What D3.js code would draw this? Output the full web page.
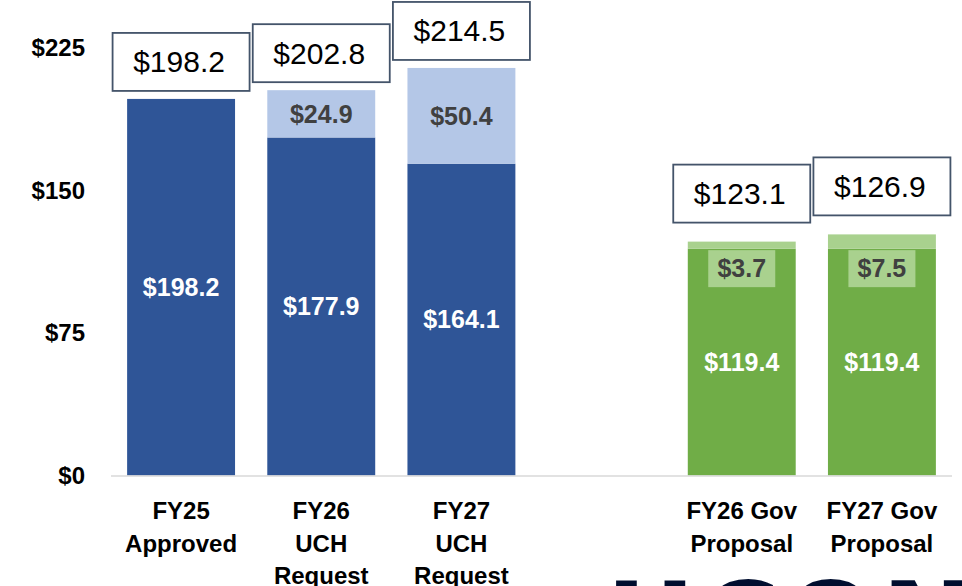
<!DOCTYPE html>
<html>
<head>
<meta charset="utf-8">
<script src="https://cdn.jsdelivr.net/npm/d3@7/dist/d3.min.js"></script>
<style>
  html, body { margin: 0; padding: 0; background: #fff; overflow: hidden; }
  svg { display: block; font-family: "Liberation Sans", Arial, sans-serif; }
</style>
</head>
<body>
<svg id="chart" width="962" height="586"></svg>
<script>
// ---- data ----
const categories = ["FY25\nApproved", "FY26\nUCH\nRequest", "FY27\nUCH\nRequest", "", "FY26 Gov\nProposal", "FY27 Gov\nProposal"];
const groups = ["uch", "uch", "uch", null, "gov", "gov"];
const baseValues = [198.2, 177.9, 164.1, null, 119.4, 119.4];
const addValues = [0, 24.9, 50.4, null, 3.7, 7.5];
const totalValues = [198.2, 202.8, 214.5, null, 123.1, 126.9];
const yTicks = [0, 75, 150, 225];

const baseColor = { uch: "#2F5597", gov: "#70AD47" };
const addColor = { uch: "#B4C7E7", gov: "#A9D18E" };

const svg = d3.select("#chart");

const x = d3.scaleBand().domain(categories).range([111, 952]).paddingInner(0.23).paddingOuter(0.115);
const y = d3.scaleLinear().domain([0, 225]).range([475.5, 48]);

const fmt = v => "$" + d3.format(".1f")(v);

// y tick labels
svg.append("g").selectAll("text").data(yTicks).join("text")
  .attr("x", 85).attr("y", d => y(d)).attr("dy", "0.35em")
  .attr("text-anchor", "end").attr("font-size", 24).attr("font-weight", "bold").attr("fill", "#000")
  .text(d => "$" + d);

const rows = categories.map((c, i) => ({ c, i, g: groups[i], base: baseValues[i], add: addValues[i], total: totalValues[i] }))
  .filter(d => d.base != null);

// base bars
svg.append("g").selectAll("rect").data(rows).join("rect")
  .attr("x", d => x(d.c)).attr("width", x.bandwidth())
  .attr("y", d => y(d.base)).attr("height", d => y(0) - y(d.base))
  .attr("fill", d => baseColor[d.g]);

// added segments
svg.append("g").selectAll("rect").data(rows.filter(d => d.add > 0)).join("rect")
  .attr("x", d => x(d.c)).attr("width", x.bandwidth())
  .attr("y", d => y(d.base + d.add)).attr("height", d => y(d.base) - y(d.base + d.add))
  .attr("fill", d => addColor[d.g]);

// baseline
svg.append("line").attr("x1", 111).attr("x2", 952).attr("y1", y(0) + 0.5).attr("y2", y(0) + 0.5)
  .attr("stroke", "#D9D9D9").attr("stroke-width", 1.5);

// base labels
svg.append("g").selectAll("text").data(rows).join("text")
  .attr("x", d => x(d.c) + x.bandwidth() / 2)
  .attr("y", d => (y(d.base) + y(0)) / 2).attr("dy", "0.35em")
  .attr("text-anchor", "middle").attr("font-size", 25).attr("font-weight", "bold").attr("fill", "#fff")
  .text(d => fmt(d.base));

// added labels
const addRows = rows.filter(d => d.add > 0);
addRows.forEach(d => {
  const cx = x(d.c) + x.bandwidth() / 2;
  let cy;
  if (d.g === "gov") {
    const top = y(d.base) + 1.5, h = 37;
    svg.append("rect").attr("x", cx - 33.5).attr("y", top).attr("width", 67).attr("height", h)
      .attr("fill", addColor[d.g]);
    cy = top + h / 2;
  } else {
    cy = (y(d.base + d.add) + y(d.base)) / 2;
  }
  svg.append("text").attr("x", cx).attr("y", cy).attr("dy", "0.35em")
    .attr("text-anchor", "middle").attr("font-size", 25).attr("font-weight", "bold").attr("fill", "#404040")
    .text(fmt(d.add));
});

// total boxes
const boxW = 137, boxH = 58;
rows.forEach(d => {
  const cx = x(d.c) + x.bandwidth() / 2;
  const gap = d.g === "gov" ? 19 : 8;
  const bottom = y(d.total) - gap;
  svg.append("rect").attr("x", cx - boxW / 2).attr("y", bottom - boxH).attr("width", boxW).attr("height", boxH)
    .attr("fill", "#fff").attr("stroke", "#44546A").attr("stroke-width", 1.8);
  svg.append("text").attr("x", cx - 2).attr("y", bottom - boxH / 2).attr("dy", "0.35em")
    .attr("text-anchor", "middle").attr("font-size", 30).attr("fill", "#000")
    .text(fmt(d.total));
});

// category labels
categories.forEach(c => {
  if (!c) return;
  const lines = c.split("\n");
  const t = svg.append("text").attr("text-anchor", "middle").attr("font-size", 24).attr("font-weight", "bold").attr("fill", "#000");
  lines.forEach((ln, k) => {
    t.append("tspan").attr("x", x(c) + x.bandwidth() / 2).attr("y", 519 + k * 32.5).text(ln);
  });
});

// partial logo at bottom
svg.append("text").attr("x", 606).attr("y", 661)
  .attr("font-size", 110).attr("font-weight", "900").attr("fill", "#000E2F")
  .attr("font-family", "'DejaVu Sans', sans-serif")
  .attr("letter-spacing", 4)
  .text("UCONN");
</script>
</body>
</html>
